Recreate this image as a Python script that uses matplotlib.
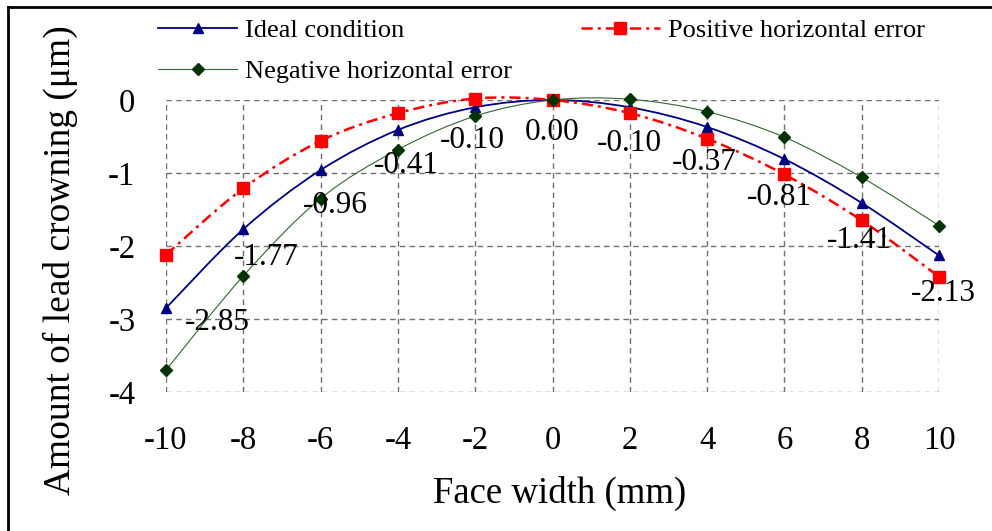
import matplotlib.pyplot as plt
import numpy as np
from matplotlib.path import Path
from matplotlib.patches import PathPatch
from matplotlib.lines import Line2D

plt.rcParams['font.family'] = ['Liberation Serif', 'DejaVu Serif']

face_width = [-10, -8, -6, -4, -2, 0, 2, 4, 6, 8, 10]
ideal = [-2.85, -1.77, -0.96, -0.41, -0.10, 0.00, -0.10, -0.37, -0.81, -1.41, -2.13]
positive = [-2.12, -1.21, -0.56, -0.18, 0.02, 0.00, -0.18, -0.53, -1.02, -1.65, -2.42]
negative = [-3.70, -2.41, -1.35, -0.68, -0.22, 0.00, 0.01, -0.16, -0.51, -1.06, -1.72]

# label offsets (pixels) for the ideal-condition values
lab_dx = [51, 23, 15, 8, -3, 0, 0, -3, -5, -2, 4]
lab_dy = [-14, -28, -35, -36, -33, -33, -36, -35, -38, -38, -38]


def smooth_path(x, y):
    # Excel-like smoothed line: cubic bezier through every point
    p = np.column_stack([x, y]).astype(float)
    n = len(p)
    verts = [p[0]]
    codes = [Path.MOVETO]
    for i in range(n - 1):
        p0 = p[i - 1] if i > 0 else p[i]
        p3 = p[i + 2] if i + 2 < n else p[i + 1]
        c1 = p[i] + (p[i + 1] - p0) / 6
        c2 = p[i + 1] - (p3 - p[i]) / 6
        verts += [c1, c2, p[i + 1]]
        codes += [Path.CURVE4] * 3
    return Path(verts, codes)


fig = plt.figure(figsize=(9.92, 5.31), dpi=100)
ax = fig.add_axes([166 / 992, 1 - 392 / 531, (939 - 166) / 992, (392 - 100) / 531])

series = [
    (ideal, 'Ideal condition', '#000080', '#000080', '-', 1.3, '^', 7.5),
    (positive, 'Positive horizontal error', '#FF0000', '#FF0000', (0, (4.5, 2, 1.2, 2)), 1.8, 's', 8),
    (negative, 'Negative horizontal error', '#336633', '#003300', '-', 0.8, 'D', 6.5),
]
handles = {}
for k, (vals, name, lc, mc, ls, lw, mk, ms) in enumerate(series):
    patch = PathPatch(smooth_path(face_width, vals), fill=False, edgecolor=lc,
                      lw=lw, linestyle=ls, clip_on=False, zorder=3 + k)
    ax.add_patch(patch)
    ax.plot(face_width, vals, linestyle='none', marker=mk, ms=ms, color=mc,
            clip_on=False, zorder=3 + k)
    handles[name] = Line2D([], [], color=lc, lw=lw, linestyle=ls, marker=mk,
                           ms=ms, markerfacecolor=mc, markeredgecolor=mc)

for x, v, dx, dy in zip(face_width, ideal, lab_dx, lab_dy):
    ax.annotate('%.2f' % v, (x, v), xytext=(dx, dy), textcoords='offset pixels',
                ha='center', va='center', fontsize=22.5, zorder=10)

ax.set_xlim(-10, 10)
ax.set_ylim(-4, 0)
ax.set_xticks(face_width)
ax.set_yticks([0, -1, -2, -3, -4])
ax.set_yticklabels(['0', '-1', '-2', '-3', '-4'])
ax.set_xticklabels([str(v) for v in face_width])
ax.tick_params(length=0, labelsize=23.5)
ax.tick_params(axis='x', pad=24)
ax.tick_params(axis='y', pad=22)
for s in ax.spines.values():
    s.set_visible(False)
ax.grid(True, color='#707070', linestyle=(0, (4, 3)), lw=1)
ax.set_axisbelow(True)

fig.text(560 / 992, 1 - 493 / 531, 'Face width (mm)', ha='center', va='center', fontsize=26.5)
fig.text(60 / 992, 1 - 260 / 531, 'Amount of lead crowning (μm)', ha='center', va='center',
         rotation=90, fontsize=27)

order = ['Ideal condition', 'Negative horizontal error', 'Positive horizontal error']
fig.legend([handles[o] for o in order], order, ncol=2, frameon=False, fontsize=19,
           loc='upper left', bbox_to_anchor=(158 / 992, 1 - 19 / 531),
           borderpad=0, borderaxespad=0, handlelength=3.0, handletextpad=0.3,
           labelspacing=0.65, columnspacing=2.6)

# outer frame (top and left edges)
fig.add_artist(Line2D([8 / 992, 1], [1 - 7 / 531, 1 - 7 / 531], color='black', lw=2))
fig.add_artist(Line2D([8 / 992, 8 / 992], [0, 1 - 7 / 531], color='black', lw=2))

fig.savefig('out.png', dpi=100)
